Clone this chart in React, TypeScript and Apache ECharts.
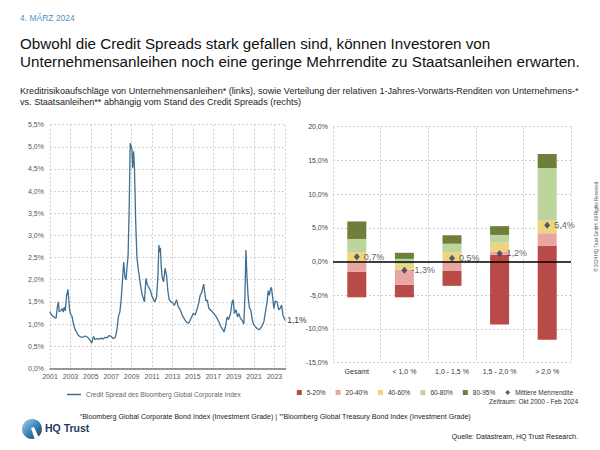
import React, { useEffect, useRef } from "react";
import * as echarts from "echarts";

// ---- Left chart: credit spread (decimal year, value in %) ----
const spreadDates = [
  2001.0, 2001.1, 2001.25, 2001.45, 2001.6, 2001.72, 2001.82, 2001.9, 2002.05, 2002.2,
  2002.3, 2002.4, 2002.5, 2002.62, 2002.75, 2002.82, 2002.92, 2003.03, 2003.15, 2003.3,
  2003.45, 2003.6, 2003.78, 2004.0, 2004.2, 2004.45, 2004.7, 2004.9, 2005.1, 2005.26,
  2005.4, 2005.6, 2005.8, 2006.0, 2006.2, 2006.4, 2006.6, 2006.8, 2007.0, 2007.2,
  2007.4, 2007.55, 2007.7, 2007.85, 2007.97, 2008.1, 2008.22, 2008.35, 2008.45, 2008.55,
  2008.65, 2008.76, 2008.86, 2008.95, 2009.03, 2009.1, 2009.2, 2009.28, 2009.4, 2009.52,
  2009.66, 2009.8, 2009.92, 2010.05, 2010.2, 2010.26, 2010.4, 2010.55, 2010.7, 2010.85,
  2011.0, 2011.15, 2011.28, 2011.45, 2011.58, 2011.67, 2011.75, 2011.82, 2011.9, 2012.0,
  2012.13, 2012.28, 2012.42, 2012.55, 2012.68, 2012.85, 2013.02, 2013.2, 2013.4, 2013.55,
  2013.77, 2013.95, 2014.2, 2014.42, 2014.6, 2014.8, 2015.05, 2015.22, 2015.4, 2015.57,
  2015.72, 2015.88, 2016.06, 2016.16, 2016.28, 2016.42, 2016.56, 2016.8, 2017.05, 2017.3,
  2017.55, 2017.72, 2017.92, 2018.05, 2018.2, 2018.36, 2018.5, 2018.68, 2018.85, 2018.95,
  2019.07, 2019.24, 2019.37, 2019.5, 2019.66, 2019.83, 2020.0, 2020.1, 2020.2, 2020.3,
  2020.42, 2020.55, 2020.68, 2020.82, 2020.97, 2021.15, 2021.3, 2021.46, 2021.63, 2021.8,
  2021.96, 2022.12, 2022.28, 2022.38, 2022.5, 2022.6, 2022.7, 2022.82, 2022.94, 2023.08,
  2023.25, 2023.42, 2023.58, 2023.7, 2023.83, 2023.95, 2024.05,
];
const spreadValues = [
  1.28, 1.22, 1.18, 1.15, 1.13, 1.38, 1.5, 1.28, 1.3, 1.35,
  1.27, 1.38, 1.3, 1.62, 1.78, 1.62, 1.32, 1.22, 1.18, 1.0,
  0.88, 0.82, 0.74, 0.71, 0.7, 0.73, 0.7, 0.64, 0.57, 0.72,
  0.65, 0.67, 0.66, 0.68, 0.66, 0.7, 0.69, 0.74, 0.72, 0.67,
  0.7, 0.86, 1.16, 1.28, 1.54, 1.98, 2.4, 2.05, 2.0, 2.3,
  2.52, 3.6, 5.08, 5.02, 4.95, 4.52, 4.9, 4.5, 3.3, 2.5,
  2.22, 2.0, 1.8, 1.65, 1.54, 1.5, 2.03, 1.88, 1.82, 1.75,
  1.62, 1.55, 1.5, 1.62, 2.1, 2.78, 2.62, 2.72, 2.3, 2.05,
  1.95, 2.26, 2.1, 1.75, 1.55, 1.5, 1.48, 1.42, 1.55, 1.4,
  1.32, 1.2, 1.1, 1.03, 1.02, 1.12, 1.24, 1.2, 1.32, 1.47,
  1.65, 1.72, 1.9, 1.72, 1.52, 1.54, 1.36, 1.3, 1.24, 1.16,
  1.05, 0.95, 0.88, 0.82, 0.95, 1.16, 1.1, 1.22, 1.5, 1.55,
  1.24, 1.32, 1.16, 1.24, 1.13, 1.08, 1.0, 1.6, 2.67, 2.1,
  1.6, 1.36, 1.32, 1.1, 0.98, 0.93, 0.9, 0.87, 0.9, 0.97,
  1.05, 1.28, 1.5, 1.75, 1.65, 1.78, 1.83, 1.6, 1.35, 1.52,
  1.5, 1.32, 1.36, 1.43, 1.2, 1.13, 1.08,
];
const startYear = 2001;
const endYear = 2024.1;
const yearTicks = [2001, 2003, 2005, 2007, 2009, 2011, 2013, 2015, 2017, 2019, 2021, 2023];
const spreadLabel = "Credit Spread des Bloomberg Global Corporate Index";
const lastLabel = "1,1%";

// ---- Right chart: percentile distribution of 1y forward excess returns ----
const categories = ["Gesamt", "< 1,0 %", "1,0 - 1,5 %", "1,5 - 2,0 %", "> 2,0 %"];
const p5 = [-5.3, -5.3, -3.6, -9.35, -11.6];
const p20 = [-1.5, -3.45, -1.4, 1.0, 2.3];
const p40 = [-0.15, -1.2, 0.0, 1.5, 4.2];
const p60 = [1.35, -0.4, 1.35, 2.8, 6.05];
const p80 = [3.35, 0.4, 2.65, 3.95, 13.85];
const p95 = [5.95, 1.3, 3.9, 5.25, 15.95];
const meanExcess = [0.7, -1.3, 0.5, 1.2, 5.4];
const bandNames = ["5-20%", "20-40%", "40-60%", "60-80%", "80-95%"];
const meanName = "Mittlere Mehrrendite";

const FONT = "'Liberation Sans', Arial, Helvetica, sans-serif";
const bandColors = ["#b84a47", "#e9a5a1", "#eed47c", "#bcd59d", "#6e7e3b"];
const gridLine = { type: [2, 2] as any, color: "#c4c4c4", width: 0.8 };

const pct = (v: number) => v.toFixed(1).replace(".", ",") + "%";

export default function App() {
  const ref = useRef<HTMLDivElement>(null);
  useEffect(() => {
    if (!ref.current) return;
    const chart = echarts.init(ref.current, null, { renderer: "svg" });
    const bounds = [p5, p20, p40, p60, p80, p95];
    const bandSeries = bandNames.map((name, k) => ({
      name,
      type: "bar",
      xAxisIndex: 1,
      yAxisIndex: 1,
      stack: "q",
      stackStrategy: "all",
      barWidth: 19,
      itemStyle: { color: bandColors[k] },
      data: categories.map((_, i) => +(bounds[k + 1][i] - bounds[k][i]).toFixed(3)),
    }));
    chart.setOption({
      animation: false,
      backgroundColor: "#fff",
      textStyle: { fontFamily: FONT },
      grid: [
        { left: 50, top: 124.7, width: 235.7, height: 243.6 },
        { left: 333, top: 126.7, width: 238, height: 236 },
      ],
      xAxis: [
        {
          gridIndex: 0,
          type: "value",
          min: 0,
          max: endYear - startYear,
          interval: 2,
          axisLine: { show: true, lineStyle: { color: "#777", width: 1.5 } },
          axisTick: { show: false },
          axisLabel: {
            fontSize: 7,
            color: "#555",
            margin: 5,
            fontFamily: FONT,
            formatter: (v: number) => {
              const y = Math.round(v + startYear);
              return yearTicks.includes(y) && Math.abs(v + startYear - y) < 1e-6 ? String(y) : "";
            },
          },
          splitLine: { show: true, lineStyle: gridLine },
        },
        {
          gridIndex: 1,
          type: "category",
          data: categories,
          axisLine: { show: false },
          axisTick: { show: false },
          axisLabel: { fontSize: 7, color: "#333", margin: 5, fontFamily: FONT },
          splitLine: { show: true, lineStyle: gridLine },
        },
      ],
      yAxis: [
        {
          gridIndex: 0,
          type: "value",
          min: 0,
          max: 5.5,
          interval: 0.5,
          axisLine: { show: false },
          axisTick: { show: false },
          axisLabel: { fontSize: 7, color: "#555", margin: 6, formatter: pct, fontFamily: FONT },
          splitLine: { show: true, lineStyle: gridLine },
        },
        {
          gridIndex: 1,
          type: "value",
          min: -15,
          max: 20,
          interval: 5,
          axisLine: { show: false },
          axisTick: { show: false },
          axisLabel: { fontSize: 7, color: "#444", margin: 5, formatter: pct, fontFamily: FONT },
          splitLine: { show: true, lineStyle: gridLine },
        },
      ],
      legend: [
        {
          data: [spreadLabel],
          left: 62,
          top: 386,
          icon: "rect",
          itemWidth: 14,
          itemHeight: 1.5,
          textStyle: { fontSize: 6.5, color: "#666", fontFamily: FONT },
          selectedMode: false,
        },
        {
          data: [
            ...bandNames.map((n) => ({ name: n, icon: "rect" })),
            { name: meanName, icon: "diamond" },
          ],
          right: 22,
          top: 384,
          itemWidth: 5,
          itemHeight: 5,
          itemGap: 10,
          textStyle: { fontSize: 6.5, color: "#333", fontFamily: FONT },
          selectedMode: false,
        },
      ],
      series: [
        {
          name: spreadLabel,
          type: "line",
          xAxisIndex: 0,
          yAxisIndex: 0,
          symbol: "none",
          lineStyle: { color: "#3f6f92", width: 1.3 },
          itemStyle: { color: "#3f6f92" },
          data: spreadDates.map((d, i) => [d - startYear, spreadValues[i]]),
          endLabel: {
            show: true,
            formatter: lastLabel,
            fontSize: 8.5,
            color: "#333",
            distance: 2,
            fontFamily: FONT,
          },
          markLine: {
            silent: true,
            symbol: "none",
            label: { show: false },
            lineStyle: gridLine,
            data: [{ xAxis: endYear - startYear }],
          },
        },
        {
          name: "base",
          type: "bar",
          xAxisIndex: 1,
          yAxisIndex: 1,
          stack: "q",
          stackStrategy: "all",
          barWidth: 19,
          silent: true,
          itemStyle: { color: "rgba(0,0,0,0)" },
          data: p5,
        },
        ...bandSeries,
        {
          name: meanName,
          type: "scatter",
          xAxisIndex: 1,
          yAxisIndex: 1,
          symbol: "diamond",
          symbolSize: [6, 7],
          itemStyle: { color: "#2b3a5c" },
          z: 5,
          data: meanExcess,
          label: {
            show: true,
            position: "right",
            distance: 4,
            fontSize: 9,
            color: "#333",
            fontFamily: FONT,
            formatter: (p: any) => pct(p.value),
          },
          markLine: {
            silent: true,
            symbol: "none",
            label: { show: false },
            lineStyle: { color: "#000", width: 1.5, type: "solid" },
            data: [{ yAxis: 0 }],
          },
        },
      ],
      graphic: [
        { type: "text", left: 20, top: 13, style: { text: "4. MÄRZ 2024", fontSize: 8.5, fill: "#4f94bd", fontFamily: FONT } },
        {
          type: "text",
          left: 20,
          top: 34,
          style: {
            text:
              "Obwohl die Credit Spreads stark gefallen sind, können Investoren von\nUnternehmensanleihen noch eine geringe Mehrrendite zu Staatsanleihen erwarten.",
            fontSize: 15.2,
            lineHeight: 18.5,
            fill: "#111",
            fontFamily: FONT,
          },
        },
        {
          type: "text",
          left: 20,
          top: 85,
          style: {
            text:
              "Kreditrisikoaufschläge von Unternehmensanleihen* (links), sowie Verteilung der relativen 1-Jahres-Vorwärts-Renditen von Unternehmens-*\nvs. Staatsanleihen** abhängig vom Stand des Credit Spreads (rechts)",
            fontSize: 9.1,
            lineHeight: 11.5,
            fill: "#222",
            fontFamily: FONT,
          },
        },
        {
          type: "text",
          right: 22,
          top: 398,
          style: { text: "Zeitraum: Okt 2000 - Feb 2024", fontSize: 6.5, fill: "#333", fontFamily: FONT },
        },
        {
          type: "text",
          left: 80,
          top: 413,
          style: {
            text: "{s|*}Bloomberg Global Corporate Bond Index (Investment Grade) | {s|**}Bloomberg Global Treasury Bond Index (Investment Grade)",
            fontSize: 7.1,
            fill: "#222",
            fontFamily: FONT,
            rich: { s: { fontSize: 5.5, verticalAlign: "top", fill: "#222", fontFamily: FONT } },
          },
        },
        {
          type: "text",
          right: 22,
          top: 433,
          style: { text: "Quelle: Datastream, HQ Trust Research.", fontSize: 7, fill: "#222", fontFamily: FONT },
        },
        {
          type: "text",
          x: 596,
          y: 226,
          rotation: Math.PI / 2,
          style: {
            text: "© 2024 HQ Trust GmbH. All Rights Reserved.",
            fontSize: 4.5,
            fill: "#555",
            align: "center",
            verticalAlign: "middle",
            fontFamily: FONT,
          },
        },
        {
          type: "circle",
          shape: { cx: 32, cy: 429, r: 10 },
          style: {
            fill: new echarts.graphic.LinearGradient(0, 0, 1, 1, [
              { offset: 0, color: "#a8d6ee" },
              { offset: 0.5, color: "#3d86b8" },
              { offset: 1, color: "#123f6b" },
            ]),
          },
        },
        {
          type: "polygon",
          shape: { points: [[31, 428], [35, 440], [40, 440], [34, 427]] },
          style: { fill: "#fff" },
        },
        {
          type: "text",
          left: 45,
          top: 422,
          style: { text: "HQ Trust", fontSize: 10.5, fontWeight: "bold", fill: "#1e3a5f", fontFamily: FONT },
        },
      ],
    });
    return () => chart.dispose();
  }, []);
  return (
    <div style={{ position: "fixed", left: 0, top: 0, width: 600, height: 450, background: "#fff" }}>
      <div ref={ref} style={{ width: 600, height: 450 }} />
    </div>
  );
}
